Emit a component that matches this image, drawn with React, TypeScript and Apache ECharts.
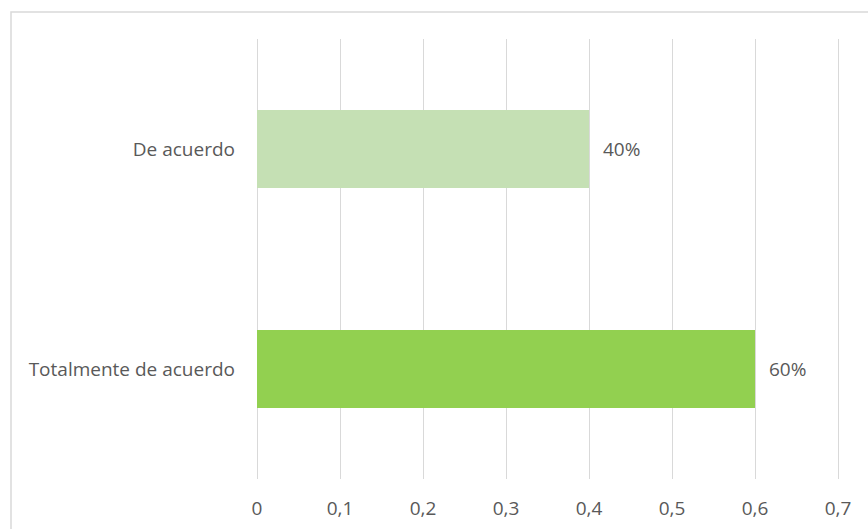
import React, { useEffect, useRef } from "react";
import * as echarts from "echarts";

const categories = ["De acuerdo", "Totalmente de acuerdo"];
const values = [0.4, 0.6];
const barColors = ["#c5e0b4", "#92d050"];
const xTicks = { min: 0, max: 0.7, interval: 0.1 };

export default function App() {
  const ref = useRef<HTMLDivElement>(null);
  useEffect(() => {
    if (!ref.current) return;
    const chart = echarts.init(ref.current, null, { renderer: "svg" });
    const font = "'Open Sans', sans-serif";
    chart.setOption({
      animation: false,
      backgroundColor: "#ffffff",
      graphic: [
        {
          type: "rect",
          shape: { x: 11, y: 12, width: 900, height: 600 },
          style: { fill: "none", stroke: "#d9d9d9", lineWidth: 1.5 },
          silent: true,
          z: 100,
        },
      ],
      grid: { left: 257, right: 30, top: 39, bottom: 50, containLabel: false },
      xAxis: {
        type: "value",
        min: xTicks.min,
        max: xTicks.max,
        interval: xTicks.interval,
        axisLine: { show: false },
        axisTick: { show: false },
        splitLine: { show: true, lineStyle: { color: "#d9d9d9", width: 1 } },
        axisLabel: {
          color: "#595959",
          fontFamily: font,
          fontSize: 19,
          margin: 19,
          formatter: (v: number) => String(Math.round(v * 10) / 10).replace(".", ","),
        },
      },
      yAxis: {
        type: "category",
        data: categories,
        inverse: true,
        axisLine: { show: false },
        axisTick: { show: false },
        splitLine: { show: false },
        axisLabel: {
          color: "#595959",
          fontFamily: font,
          fontSize: 19,
          margin: 22,
        },
      },
      series: [
        {
          type: "bar",
          barWidth: 78,
          data: values.map((v, i) => ({ value: v, itemStyle: { color: barColors[i] } })),
          label: {
            show: true,
            position: "right",
            distance: 14,
            color: "#595959",
            fontFamily: font,
            fontSize: 19,
            formatter: (p: any) => Math.round(p.value * 100) + "%",
          },
        },
      ],
    });
    return () => chart.dispose();
  }, []);
  return (
    <div
      ref={ref}
      style={{ position: "fixed", left: 0, top: 0, width: 868, height: 529 }}
    />
  );
}
